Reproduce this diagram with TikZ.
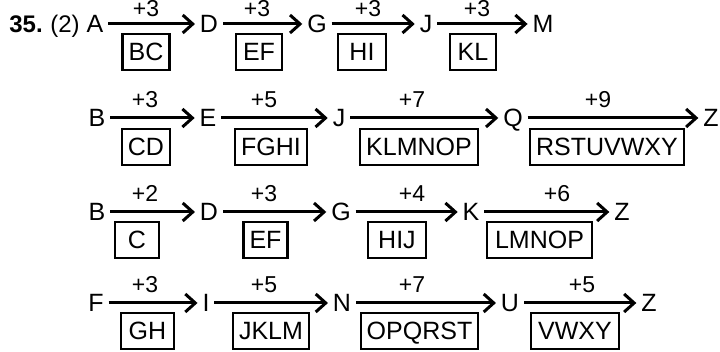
\documentclass[tikz,border=0pt]{standalone}
\usepackage{fontspec}
\setmainfont{Liberation Sans}
\usetikzlibrary{arrows.meta}
\tikzset{
  ltr/.style={inner xsep=2.3pt, inner ysep=0pt, text height=9pt, text depth=0pt, font=\fontsize{12.5}{14}\selectfont},
  qno/.style={inner sep=0pt, text height=9pt, text depth=0pt, font=\fontsize{12}{14}\selectfont},
  plus/.style={anchor=base, yshift=5pt, inner sep=0pt, font=\fontsize{11.5}{13}\selectfont},
  cbox/.style={draw, line width=1.2pt, inner xsep=3pt, minimum width=#1, minimum height=18pt, text height=9pt, text depth=0pt, font=\fontsize{12.5}{14}\selectfont},
  cbox/.default=0pt,
  farr/.style={-{Straight Barb[length=5pt,width=9pt]}, line width=1.5pt}
}
\begin{document}
\begin{tikzpicture}[x=0.5pt,y=-0.5pt]
\useasboundingbox (0,0) rectangle (720,352);
% row 1
\node[qno] (q1) at (26,24) {\textbf{35.}};
\node[qno] (q2) at (65,24) {(2)};
\node[ltr] (a1) at (95,24) {A};
\node[ltr] (a2) at (209,24) {D};
\node[ltr] (a3) at (317,24) {G};
\node[ltr] (a4) at (426,24) {J};
\node[ltr] (a5) at (543,24) {M};
\node[plus, yshift=-1.5pt] (pa1) at (146,24) {+3};
\node[plus, yshift=-1.5pt] (pa2) at (257,24) {+3};
\node[plus, yshift=-1.5pt] (pa3) at (368,24) {+3};
\node[plus, yshift=-1.5pt] (pa4) at (477,24) {+3};
\node[cbox=23.5pt] (ba1) at (146,52) {BC};
\node[cbox=23pt] (ba2) at (259,52) {EF};
\node[cbox=24pt] (ba3) at (362,52) {HI};
\node[cbox=23pt] (ba4) at (473,52) {KL};
\draw[farr] (a1)--(a2); \draw[farr] (a2)--(a3); \draw[farr] (a3)--(a4); \draw[farr] (a4)--(a5);
% row 2
\node[ltr] (b1) at (97,118) {B};
\node[ltr] (b2) at (208,118) {E};
\node[ltr] (b3) at (339,118) {J};
\node[ltr] (b4) at (513,118) {Q};
\node[ltr] (b5) at (711,118) {Z};
\node[plus] (pb1) at (145,118) {+3};
\node[plus] (pb2) at (264,118) {+5};
\node[plus] (pb3) at (412,118) {+7};
\node[plus] (pb4) at (598,118) {+9};
\node[cbox=23pt] (bb1) at (146,147) {CD};
\node[cbox=36pt] (bb2) at (271,147) {FGHI};
\node[cbox=58pt] (bb3) at (419,147) {KLMNOP};
\node[cbox=74pt] (bb4) at (607,147) {RSTUVWXY};
\draw[farr] (b1)--(b2); \draw[farr] (b2)--(b3); \draw[farr] (b3)--(b4); \draw[farr] (b4)--(b5);
% row 3
\node[ltr] (c1) at (97,212) {B};
\node[ltr] (c2) at (209,212) {D};
\node[ltr] (c3) at (341,212) {G};
\node[ltr] (c4) at (471,212) {K};
\node[ltr] (c5) at (622,212) {Z};
\node[plus] (pc1) at (145,212) {+2};
\node[plus] (pc2) at (264,212) {+3};
\node[plus] (pc3) at (412,212) {+4};
\node[plus] (pc4) at (557,212) {+6};
\node[cbox=22pt] (bc1) at (137,240) {C};
\node[cbox=21.5pt] (bc2) at (265.5,240) {EF};
\node[cbox=29pt] (bc3) at (397,240) {HIJ};
\node[cbox=52.5pt] (bc4) at (539.5,240) {LMNOP};
\draw[farr] (c1)--(c2); \draw[farr] (c2)--(c3); \draw[farr] (c3)--(c4); \draw[farr] (c4)--(c5);
% row 4
\node[ltr] (d1) at (96,303) {F};
\node[ltr] (d2) at (206,303) {I};
\node[ltr] (d3) at (342,303) {N};
\node[ltr] (d4) at (510,303) {U};
\node[ltr] (d5) at (649,303) {Z};
\node[plus] (pd1) at (145,303) {+3};
\node[plus] (pd2) at (264,303) {+5};
\node[plus] (pd3) at (412,303) {+7};
\node[plus] (pd4) at (582,303) {+5};
\node[cbox=26.5pt] (bd1) at (147.5,331) {GH};
\node[cbox=38pt] (bd2) at (271,331) {JKLM};
\node[cbox=56.5pt] (bd3) at (419.5,331) {OPQRST};
\node[cbox=44pt] (bd4) at (575,331) {VWXY};
\draw[farr] (d1)--(d2); \draw[farr] (d2)--(d3); \draw[farr] (d3)--(d4); \draw[farr] (d4)--(d5);
\end{tikzpicture}
\end{document}
